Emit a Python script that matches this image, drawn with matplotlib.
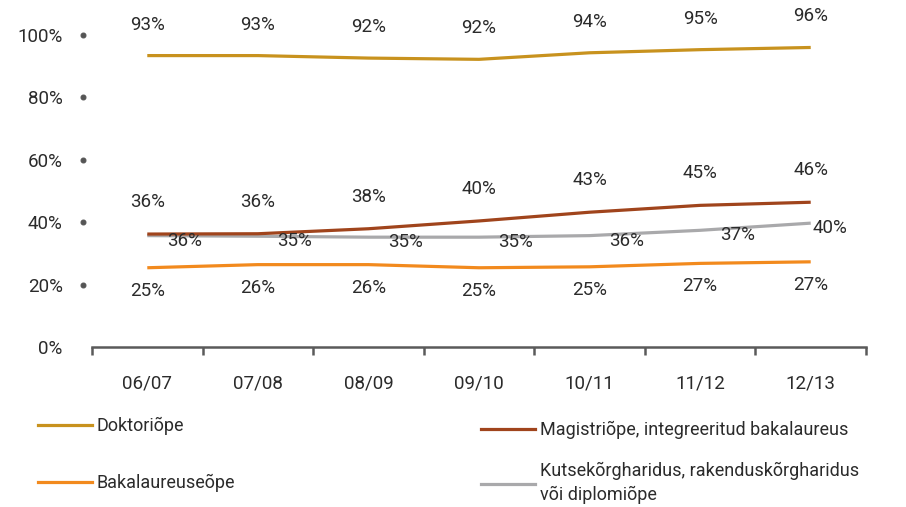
import numpy as np
import matplotlib.pyplot as plt
from matplotlib.lines import Line2D

# school years
years = ['06/07', '07/08', '08/09', '09/10', '10/11', '11/12', '12/13']

# share (%) per study level
doktor = [93.4, 93.4, 92.6, 92.2, 94.3, 95.3, 96.0]
magister = [36.2, 36.3, 37.9, 40.4, 43.2, 45.4, 46.4]
kutse = [35.7, 35.5, 35.2, 35.2, 35.7, 37.4, 39.7]
bakalaureus = [25.4, 26.4, 26.4, 25.4, 25.7, 26.8, 27.3]

doktor_lbl = [93, 93, 92, 92, 94, 95, 96]
magister_lbl = [36, 36, 38, 40, 43, 45, 46]
kutse_lbl = [36, 35, 35, 35, 36, 37, 40]
bakalaureus_lbl = [25, 26, 26, 25, 25, 27, 27]

c_dok = '#C8921E'
c_mag = '#A0441C'
c_bak = '#F28A1E'
c_kut = '#A9A9AB'
txt = '#2b2b2b'

plt.rcParams['font.family'] = ['Roboto', 'DejaVu Sans']

fig = plt.figure(figsize=(9.06, 5.07), dpi=100)
ax = fig.add_axes([92 / 906, 1 - 347 / 507, 774 / 906, 312 / 507])

px = 0.72  # pixel -> point at dpi 100
ax.spines['left'].set_position(('outward', 9 * px))

x = np.arange(len(years))
lw = 2.3
ax.plot(x, doktor, color=c_dok, lw=lw, solid_capstyle='butt')
ax.plot(x, kutse, color=c_kut, lw=lw, solid_capstyle='butt')
ax.plot(x, magister, color=c_mag, lw=lw, solid_capstyle='butt')
ax.plot(x, bakalaureus, color=c_bak, lw=lw, solid_capstyle='butt')

fs = 13.5
for i in x:
    ax.annotate(f'{doktor_lbl[i]}%', (i, doktor[i]), xytext=(0, 31 * px),
                textcoords='offset points', ha='center', va='center', fontsize=fs, color=txt)
    ax.annotate(f'{magister_lbl[i]}%', (i, magister[i]), xytext=(0, 32 * px),
                textcoords='offset points', ha='center', va='center', fontsize=fs, color=txt)
    ax.annotate(f'{bakalaureus_lbl[i]}%', (i, bakalaureus[i]), xytext=(0, -23 * px),
                textcoords='offset points', ha='center', va='center', fontsize=fs, color=txt)
    dx = 37 if i < len(x) - 1 else 19
    ax.annotate(f'{kutse_lbl[i]}%', (i, kutse[i]), xytext=(dx * px, -5 * px),
                textcoords='offset points', ha='center', va='center', fontsize=fs, color=txt)

ax.set_xlim(-0.5, len(years) - 0.5)
ax.set_ylim(0, 100)

# x axis: labels at centers, ticks at boundaries
ax.set_xticks(x)
ax.set_xticklabels(years)
ax.set_xticks(np.arange(-0.5, len(years)), minor=True)
ax.tick_params(axis='x', which='major', length=0, pad=20, labelsize=fs, labelcolor=txt)
ax.tick_params(axis='x', which='minor', length=6, width=1.8, color='#5a5a5a')

# y axis: dots instead of tick marks
ax.set_yticks(np.arange(0, 101, 20))
ax.set_yticklabels([f'{v}%' for v in range(0, 101, 20)])
ax.tick_params(axis='y', length=3.5, pad=11, color='#555555', labelsize=fs, labelcolor=txt)
for k, t in enumerate(ax.yaxis.get_major_ticks()):
    t.tick1line.set_marker('o')
    t.tick1line.set_markerfacecolor('#555555')
    t.tick1line.set_markeredgecolor('#555555')
    if k == 0:
        t.tick1line.set_visible(False)

for s in ['left', 'top', 'right']:
    ax.spines[s].set_visible(False)
ax.spines['bottom'].set_color('#5a5a5a')
ax.spines['bottom'].set_linewidth(1.8)

# legend: one entry per slot, two columns below the chart
leg_size = 13
entries = [
    (c_dok, 'Doktoriõpe', 38, 426),
    (c_mag, 'Magistriõpe, integreeritud bakalaureus', 481, 430),
    (c_bak, 'Bakalaureuseõpe', 38, 483),
    (c_kut, 'Kutsekõrgharidus, rakenduskõrgharidus\nvõi diplomiõpe', 481, 483),
]
for col, lab, lx, ly in entries:
    leg = fig.legend([Line2D([], [], color=col, lw=lw)], [lab], loc='center left',
                     bbox_to_anchor=(lx / 906, 1 - ly / 507), frameon=False,
                     borderpad=0, borderaxespad=0,
                     handlelength=54 * px / leg_size, handletextpad=5 * px / leg_size,
                     prop={'size': leg_size})
    for t in leg.get_texts():
        t.set_color(txt)
        t.set_linespacing(1.4)

fig.savefig('out.png', dpi=100)
